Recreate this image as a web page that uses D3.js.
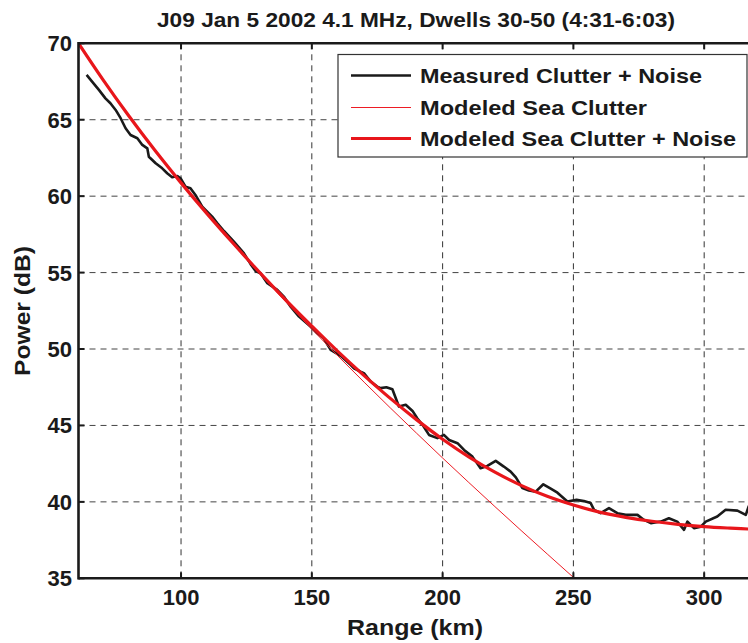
<!DOCTYPE html>
<html>
<head>
<meta charset="utf-8">
<script src="https://cdn.jsdelivr.net/npm/d3@7/dist/d3.min.js"></script>
<style>
  html, body { margin: 0; padding: 0; background: #fff; }
  svg { display: block; }
  text { font-family: "Liberation Sans", Arial, sans-serif; font-weight: bold; fill: #1a1a1a; }
</style>
</head>
<body>
<svg id="chart" width="748" height="643"></svg>
<script>
// ---------- data ----------
const titleText = "J09 Jan 5 2002 4.1 MHz, Dwells 30-50 (4:31-6:03)";
const xLabel = "Range (km)";
const yLabel = "Power (dB)";
const xTicks = [100, 150, 200, 250, 300];
const yTicks = [35, 40, 45, 50, 55, 60, 65, 70];
const seriesNames = ["Measured Clutter + Noise", "Modeled Sea Clutter", "Modeled Sea Clutter + Noise"];

// measured clutter + noise
const measuredRange = [63.9, 66.0, 68.6, 71.1, 73.0, 75.0, 76.9, 78.8, 80.7, 83.3, 85.2, 87.1, 87.7, 90.3, 92.8, 94.7, 96.6, 98.6, 99.8,
  101.7, 103.6, 105.5, 108.1, 110.0, 111.9, 113.9, 116.4, 120.2, 124.0, 126.6, 128.5, 130.4, 133.0, 136.8, 139.3, 141.9, 145.1, 149.5,
  152.1, 154.5, 157.2, 161.0, 164.8, 166.1, 168.6, 169.9, 172.5, 175.0, 176.3, 178.5, 180.8, 183.3, 185.9, 188.5, 190.3, 192.5, 194.8, 198.0,
  200.5, 202.5, 205.7, 208.2, 211.4, 214.5, 217.1, 220.3, 223.4, 226.0, 228.0, 230.5, 233.0, 235.6, 238.5, 241.5, 243.9, 247.7, 251.2,
  254.0, 256.6, 257.9, 260.4, 263.6, 266.8, 270.0, 274.5, 277.0, 279.6, 283.4, 286.5, 289.7, 292.3, 293.6, 296.1, 298.7, 300.6,
  305.0, 308.2, 312.7, 315.9, 317.0, 320.0];
const measuredDb = [67.93, 67.49, 66.95, 66.40, 66.08, 65.64, 65.10, 64.44, 64.00, 63.79, 63.35, 63.13, 62.58, 62.15, 61.82, 61.50, 61.24, 61.32, 61.17,
  60.62, 60.52, 60.08, 59.31, 58.99, 58.66, 58.23, 57.72, 57.02, 56.27, 55.55, 55.10, 54.96, 54.30, 53.87, 53.43, 52.77, 52.12, 51.47,
  51.03, 50.70, 49.94, 49.55, 48.96, 48.74, 48.52, 48.42, 47.87, 47.54, 47.44, 47.50, 47.37, 46.24, 46.35, 45.95, 45.47, 45.00, 44.38, 44.17,
  44.38, 44.05, 43.84, 43.40, 42.96, 42.20, 42.35, 42.68, 42.31, 41.98, 41.60, 40.90, 40.75, 40.67, 41.15, 40.85, 40.60, 40.02, 40.13,
  40.05, 39.92, 39.48, 39.26, 39.59, 39.26, 39.15, 39.15, 38.82, 38.61, 38.71, 38.93, 38.71, 38.17, 38.71, 38.28, 38.38, 38.71,
  39.04, 39.48, 39.43, 39.15, 39.70, 39.90];

// modeled curves
const modelRange = [60.8, 70, 80, 90, 100, 110, 120, 130, 140, 150, 160, 170, 180, 190, 200, 210, 220, 230, 240, 250, 260,
  270, 280, 290, 300, 310, 320];
const seaClutterDb = [70.0, 67.66, 65.25, 62.99, 60.85, 58.80, 56.84, 54.93, 53.09, 51.30, 49.54, 47.83, 46.15, 44.50, 42.87, 41.27,
  39.69, 38.13, 36.59, 35.06, 33.55, 32.08, 30.59, 29.13, 27.65, 26.22, 24.75];
const clutterNoiseDb = [70.0, 67.66, 65.26, 63.00, 60.87, 58.84, 56.90, 55.02, 53.22, 51.50, 49.83, 48.26, 46.77, 45.38, 44.10, 42.95,
  41.94, 41.08, 40.36, 39.79, 39.33, 38.99, 38.73, 38.53, 38.38, 38.28, 38.20];

// ---------- drawing ----------
const svg = d3.select("#chart");
const W = 748, H = 643;
const plot = { left: 78.5, right: 756.5, top: 43.3, bottom: 578.3 };

const x = d3.scaleLinear().domain([60.8, 320]).range([plot.left, plot.right]);
const y = d3.scaleLinear().domain([35, 70]).range([plot.bottom, plot.top]);

svg.append("defs").append("clipPath").attr("id", "clip")
  .append("rect").attr("x", plot.left).attr("y", plot.top)
  .attr("width", plot.right - plot.left).attr("height", plot.bottom - plot.top);

// grid
const grid = svg.append("g");
grid.selectAll("line.v").data(xTicks).enter().append("line")
  .attr("x1", d => x(d)).attr("x2", d => x(d))
  .attr("y1", plot.top).attr("y2", plot.bottom)
  .attr("stroke", "#333").attr("stroke-width", 1).attr("stroke-dasharray", "6,5");
grid.selectAll("line.h").data(yTicks.filter(d => d > 35 && d < 70)).enter().append("line")
  .attr("y1", d => y(d)).attr("y2", d => y(d))
  .attr("x1", plot.left).attr("x2", plot.right)
  .attr("stroke", "#444").attr("stroke-width", 1).attr("stroke-dasharray", "6,5");

// series
const lines = svg.append("g").attr("clip-path", "url(#clip)");
const measured = measuredRange.map((r, i) => [r, measuredDb[i]]);
const sea = modelRange.map((r, i) => [r, seaClutterDb[i]]);
const seaNoise = modelRange.map((r, i) => [r, clutterNoiseDb[i]]);

lines.append("path").datum(measured)
  .attr("d", d3.line().x(d => x(d[0])).y(d => y(d[1])))
  .attr("fill", "none").attr("stroke", "#1a1a1a").attr("stroke-width", 2.6).attr("stroke-linejoin", "round");
lines.append("path").datum(sea)
  .attr("d", d3.line().x(d => x(d[0])).y(d => y(d[1])).curve(d3.curveCatmullRom))
  .attr("fill", "none").attr("stroke", "#ed1c24").attr("stroke-width", 1);
lines.append("path").datum(seaNoise)
  .attr("d", d3.line().x(d => x(d[0])).y(d => y(d[1])).curve(d3.curveCatmullRom))
  .attr("fill", "none").attr("stroke", "#e8161b").attr("stroke-width", 3.2);

// axes frame
const axisG = svg.append("g");
axisG.append("line").attr("x1", plot.left).attr("x2", W).attr("y1", plot.top).attr("y2", plot.top)
  .attr("stroke", "#1a1a1a").attr("stroke-width", 2.6);
axisG.append("line").attr("x1", plot.left).attr("x2", W).attr("y1", plot.bottom).attr("y2", plot.bottom)
  .attr("stroke", "#1a1a1a").attr("stroke-width", 2.6);
axisG.append("line").attr("x1", plot.left).attr("x2", plot.left).attr("y1", plot.top - 1.3).attr("y2", plot.bottom + 1.3)
  .attr("stroke", "#1a1a1a").attr("stroke-width", 2.6);

// ticks (inward)
axisG.selectAll("line.xb").data(xTicks).enter().append("line")
  .attr("x1", d => x(d)).attr("x2", d => x(d)).attr("y1", plot.bottom).attr("y2", plot.bottom - 6)
  .attr("stroke", "#1a1a1a").attr("stroke-width", 2);
axisG.selectAll("line.xt").data(xTicks).enter().append("line")
  .attr("x1", d => x(d)).attr("x2", d => x(d)).attr("y1", plot.top).attr("y2", plot.top + 6)
  .attr("stroke", "#1a1a1a").attr("stroke-width", 2);
axisG.selectAll("line.yl").data(yTicks).enter().append("line")
  .attr("y1", d => y(d)).attr("y2", d => y(d)).attr("x1", plot.left).attr("x2", plot.left + 6)
  .attr("stroke", "#1a1a1a").attr("stroke-width", 2);

// tick labels
svg.selectAll("text.xt").data(xTicks).enter().append("text")
  .attr("x", d => x(d)).attr("y", 605).attr("text-anchor", "middle")
  .attr("font-size", 22).text(d => d);
svg.selectAll("text.yt").data(yTicks).enter().append("text")
  .attr("x", 72).attr("y", d => y(d) + 8).attr("text-anchor", "end")
  .attr("font-size", 22).text(d => d);

// axis labels
svg.append("text").attr("x", 415).attr("y", 635).attr("text-anchor", "middle")
  .attr("font-size", 22).attr("textLength", 136).attr("lengthAdjust", "spacingAndGlyphs").text(xLabel);
svg.append("text").attr("transform", "translate(30,311) rotate(-90)").attr("text-anchor", "middle")
  .attr("font-size", 22).attr("textLength", 130).attr("lengthAdjust", "spacingAndGlyphs").text(yLabel);

// title
svg.append("text").attr("x", 157).attr("y", 27)
  .attr("font-size", 19.5).attr("textLength", 518).attr("lengthAdjust", "spacingAndGlyphs").text(titleText);

// legend
const lg = svg.append("g");
lg.append("rect").attr("x", 338).attr("y", 54.5).attr("width", 409).attr("height", 102.5)
  .attr("fill", "#fff").attr("stroke", "#333").attr("stroke-width", 1.2);
const legendStyles = [
  { color: "#1a1a1a", width: 2.6, len: 282 },
  { color: "#ed1c24", width: 1, len: 227 },
  { color: "#e8161b", width: 3.2, len: 316 }
];
const rowsY = [75.5, 107.5, 138.5];
seriesNames.forEach((name, i) => {
  lg.append("line").attr("x1", 351).attr("x2", 411).attr("y1", rowsY[i]).attr("y2", rowsY[i])
    .attr("stroke", legendStyles[i].color).attr("stroke-width", legendStyles[i].width);
  lg.append("text").attr("x", 420).attr("y", rowsY[i] + 7.5)
    .attr("font-size", 21).attr("textLength", legendStyles[i].len).attr("lengthAdjust", "spacingAndGlyphs")
    .text(name);
});
</script>
</body>
</html>
